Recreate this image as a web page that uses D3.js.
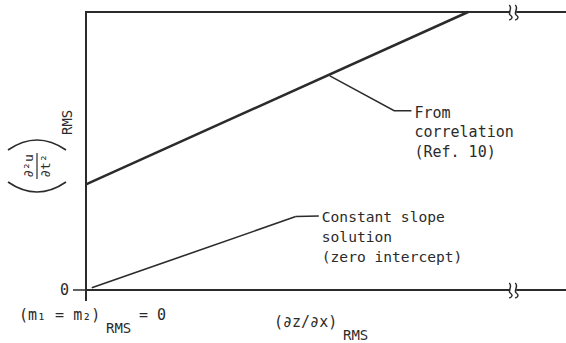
<!DOCTYPE html>
<html>
<head>
<meta charset="utf-8">
<script src="https://cdn.jsdelivr.net/npm/d3@7"></script>
<style>
  body { margin: 0; background: #fff; }
  svg text { font-family: "DejaVu Sans Mono", monospace; fill: #2b2b2b; }
</style>
</head>
<body>
<div id="graph"></div>
<script>
// x in arbitrary units of (dz/dx)RMS, y in arbitrary units of (d2u/dt2)RMS
const xDomain = [0, 10];
const yDomain = [0, 1];
const breakAt = 8.9;

// lines
const correlationLine = [[0, 0.38], [7.96, 1.0]];
const constantLine = [[0.12, 0.008], [4.37, 0.264]];

// leader lines: [point on curve, elbow, end]
const correlationLeader = [[5.08, 0.77], [6.42, 0.645], [6.78, 0.645]];
const constantLeader = [[4.37, 0.264], [4.85, 0.266]];

const correlationLabel = ["From", "correlation", "(Ref. 10)"];
const constantLabel = ["Constant slope", "solution", "(zero intercept)"];
const yTickLabels = ["0"];

const width = 566, height = 343;
const svg = d3.select("#graph").append("svg")
  .attr("width", width).attr("height", height);

const x = d3.scaleLinear().domain(xDomain).range([86, 566]);
const y = d3.scaleLinear().domain(yDomain).range([290, 12]);
const line = d3.line().x(d => x(d[0])).y(d => y(d[1]));

const ink = "#2b2b2b";

// frame: top line, bottom axis, left axis
svg.append("line")
  .attr("x1", x(0)).attr("x2", x(xDomain[1]))
  .attr("y1", y(1)).attr("y2", y(1))
  .attr("stroke", ink).attr("stroke-width", 2);
svg.append("line")
  .attr("x1", x(0)).attr("x2", x(xDomain[1]))
  .attr("y1", y(0)).attr("y2", y(0))
  .attr("stroke", ink).attr("stroke-width", 2);
svg.append("line")
  .attr("x1", x(0)).attr("x2", x(0))
  .attr("y1", y(1) - 1).attr("y2", y(0) + 11)
  .attr("stroke", ink).attr("stroke-width", 2);

// zero tick
svg.append("line")
  .attr("x1", x(0) - 13).attr("x2", x(0))
  .attr("y1", y(0)).attr("y2", y(0))
  .attr("stroke", ink).attr("stroke-width", 1.5);
svg.selectAll(".ytick").data(yTickLabels).enter().append("text")
  .attr("x", x(0) - 17).attr("y", y(0) + 5)
  .attr("text-anchor", "end").attr("font-size", 15)
  .text(d => d);

// axis breaks
function axisBreak(cx, cy) {
  const g = svg.append("g");
  g.append("rect").attr("x", cx - 3).attr("y", cy - 3).attr("width", 6).attr("height", 6).attr("fill", "#fff");
  [-3, 3].forEach(dx => {
    const bx = cx + dx;
    g.append("path")
      .attr("d", `M${bx - 1},${cy - 7} C${bx + 3},${cy - 4} ${bx - 3},${cy + 1} ${bx},${cy + 3} S${bx + 2},${cy + 7} ${bx - 1},${cy + 8}`)
      .attr("fill", "none").attr("stroke", ink).attr("stroke-width", 1.5);
  });
}
axisBreak(x(breakAt), y(1));
axisBreak(x(breakAt), y(0));

// data lines
svg.append("path").datum(correlationLine)
  .attr("d", line).attr("fill", "none")
  .attr("stroke", ink).attr("stroke-width", 2.5);
svg.append("path").datum(constantLine)
  .attr("d", line).attr("fill", "none")
  .attr("stroke", ink).attr("stroke-width", 1.6);

// leaders
svg.append("path").datum(correlationLeader)
  .attr("d", line).attr("fill", "none")
  .attr("stroke", ink).attr("stroke-width", 1.5);
svg.append("path").datum(constantLeader)
  .attr("d", line).attr("fill", "none")
  .attr("stroke", ink).attr("stroke-width", 1.5);

// annotation text
svg.append("g").selectAll("text").data(correlationLabel).enter().append("text")
  .attr("x", x(6.78) + 3).attr("y", (d, i) => y(0.645) + 7 + i * 19.5)
  .attr("font-size", 15).text(d => d);
svg.append("g").selectAll("text").data(constantLabel).enter().append("text")
  .attr("x", x(4.85) + 3).attr("y", (d, i) => y(0.266) + 6 + i * 20)
  .attr("font-size", 14.6).text(d => d);

// x labels
const xl = svg.append("g");
xl.append("text").attr("x", 19).attr("y", 320).attr("font-size", 15).text("(m\u2081 = m\u2082)");
xl.append("text").attr("x", 106).attr("y", 333).attr("font-size", 14).text("RMS");
xl.append("text").attr("x", 139).attr("y", 320).attr("font-size", 15).text("= 0");

const xt = svg.append("g");
xt.append("text").attr("x", 274).attr("y", 327).attr("font-size", 15).text("(\u2202z/\u2202x)");
xt.append("text").attr("x", 343).attr("y", 340).attr("font-size", 14).text("RMS");

// y label, rotated
const yl = svg.append("g").attr("transform", "translate(37,166) rotate(-90)");
yl.append("text").attr("x", 0).attr("y", -4).attr("text-anchor", "middle")
  .attr("font-size", 13).text("\u2202\u00b2u");
yl.append("text").attr("x", 0).attr("y", 13).attr("text-anchor", "middle")
  .attr("font-size", 13).text("\u2202t\u00b2");
yl.append("line").attr("x1", -13).attr("x2", 13).attr("y1", 0).attr("y2", 0)
  .attr("stroke", ink).attr("stroke-width", 1.2);
yl.append("path").attr("d", "M-16,-29 Q-36,0 -16,29")
  .attr("fill", "none").attr("stroke", ink).attr("stroke-width", 1.6);
yl.append("path").attr("d", "M16,-29 Q36,0 16,29")
  .attr("fill", "none").attr("stroke", ink).attr("stroke-width", 1.6);
yl.append("text").attr("x", 31).attr("y", 35).attr("font-size", 14).text("RMS");
</script>
</body>
</html>
